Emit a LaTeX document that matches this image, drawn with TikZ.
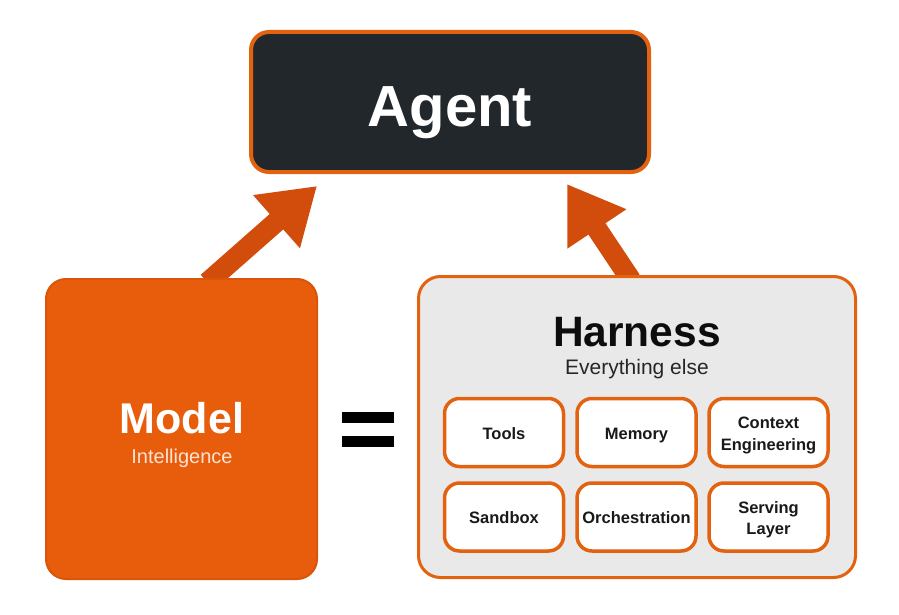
\documentclass[tikz,border=0pt]{standalone}
\usepackage{fontspec}
\setmainfont{Liberation Sans}
\usetikzlibrary{arrows.meta}
\definecolor{modelfill}{HTML}{E85D0C}
\definecolor{modelline}{HTML}{D9550A}
\definecolor{arrowc}{HTML}{D24D0B}
\definecolor{agentfill}{HTML}{22272C}
\definecolor{edgeor}{HTML}{E2620F}
\definecolor{harnessfill}{HTML}{E9E9E9}
\definecolor{softwhite}{HTML}{FBE3D2}
\begin{document}
\begin{tikzpicture}[x=1pt,y=-1pt,
  bigarrow/.style={draw=arrowc,line width=20.5pt,-{Triangle[length=54pt,width=67pt]}},
  cell/.style={draw=edgeor,line width=3.5pt,fill=white,rounded corners=15pt,minimum width=119pt,minimum height=68pt},
  celltext/.style={anchor=base,inner sep=0pt,font=\fontsize{16.5}{21}\selectfont\bfseries,text=black!90},
  ]
\useasboundingbox[fill=white] (0,0) rectangle (899,615);
% arrow end points
\coordinate (m1) at (207.5,282.5);
\coordinate (m2) at (317,186);
\coordinate (h1) at (631,280);
\coordinate (h2) at (567,184);
\draw[bigarrow] (m1) -- (m2);
\draw[bigarrow] (h1) -- (h2);
% boxes
\node[draw=edgeor,line width=4pt,fill=agentfill,rounded corners=18pt,minimum width=398pt,minimum height=140pt] (agent) at (450,102) {};
\node[anchor=base,inner sep=0pt,text=white,font=\fontsize{58}{60}\selectfont\bfseries] (agentt) at (450,127) {Agent};
\node[draw=modelline,line width=2pt,fill=modelfill,rounded corners=20pt,minimum width=271pt,minimum height=300pt] (model) at (181.5,429) {};
\node[anchor=base,inner sep=0pt,text=white,font=\fontsize{43}{45}\selectfont\bfseries] (modelt) at (182,433) {Model};
\node[anchor=base,inner sep=0pt,text=softwhite,font=\fontsize{20}{22}\selectfont] (modeli) at (182,463) {Intelligence};
% equals
\fill[black] (342,412) rectangle (394,423);
\fill[black] (342,436) rectangle (394,447);
\node[draw=edgeor,line width=3pt,fill=harnessfill,rounded corners=22pt,minimum width=437pt,minimum height=301pt] (harness) at (637,427) {};
\node[anchor=base,inner sep=0pt,text=black!95,font=\fontsize{42.5}{44}\selectfont\bfseries] (harnesst) at (637,346) {Harness};
\node[anchor=base,inner sep=0pt,text=black!85,font=\fontsize{21}{23}\selectfont] (harnesse) at (637,374) {Everything else};
\node[cell] (tools) at (504,432.5) {};
\node[cell] (memory) at (636.5,432.5) {};
\node[cell] (context) at (768.5,432.5) {};
\node[cell] (sandbox) at (504,517) {};
\node[cell] (orch) at (636.5,517) {};
\node[cell] (serving) at (768.5,517) {};
\node[celltext] (toolst) at (504,439) {Tools};
\node[celltext] (memoryt) at (636.5,439) {Memory};
\node[celltext] (contextt) at (768.5,428) {Context};
\node[celltext] (contextt2) at (768.5,450) {Engineering};
\node[celltext] (sandboxt) at (504,523) {Sandbox};
\node[celltext] (orcht) at (636.5,523) {Orchestration};
\node[celltext] (servingt) at (768.5,513) {Serving};
\node[celltext] (servingt2) at (768.5,534) {Layer};
\end{tikzpicture}
\end{document}
